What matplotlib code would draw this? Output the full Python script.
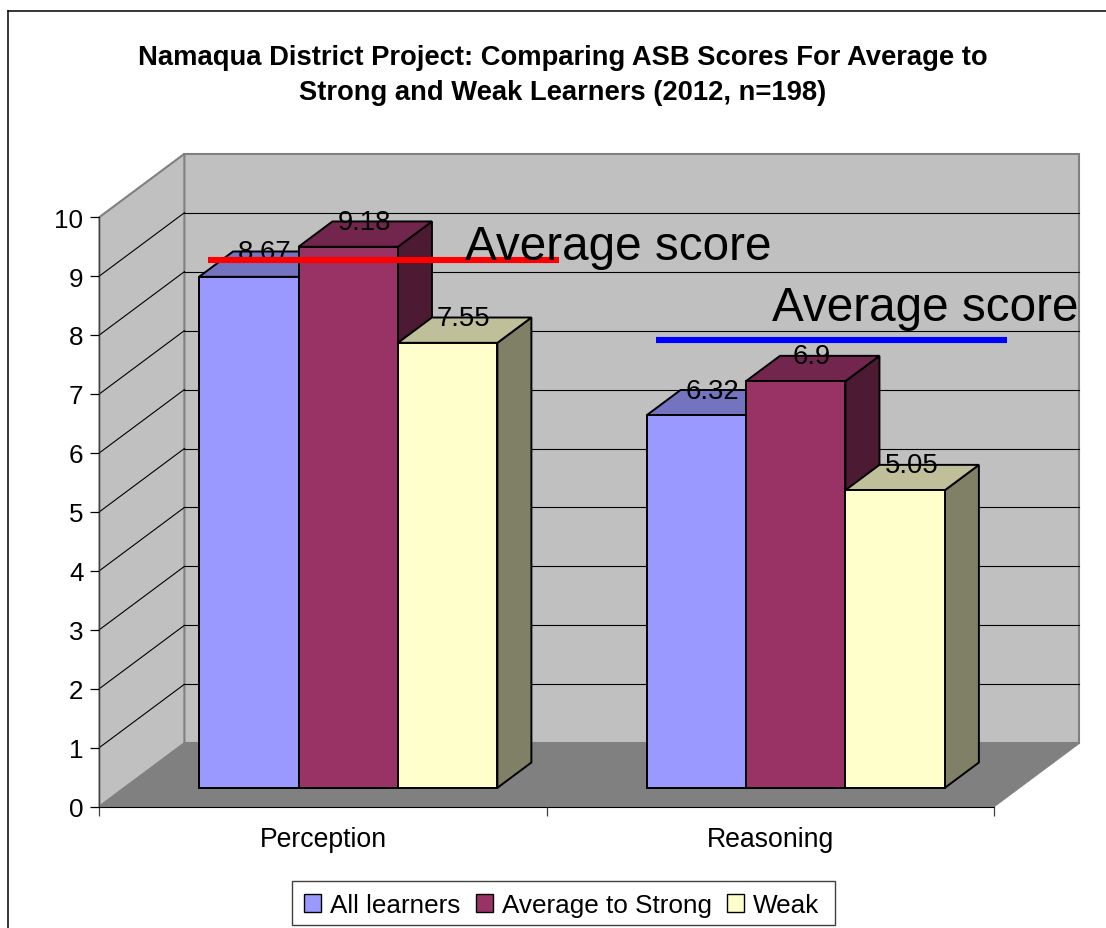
import matplotlib
matplotlib.use("Agg")
import matplotlib.pyplot as plt
from matplotlib.colors import to_rgb
from matplotlib.lines import Line2D
from matplotlib.patches import Patch, Rectangle

categories = ["Perception", "Reasoning"]
series_names = ["All learners", "Average to Strong", "Weak"]
all_learners = [8.67, 6.32]
average_to_strong = [9.18, 6.90]
weak = [7.55, 5.05]
value_labels = [["8.67", "6.32"], ["9.18", "6.9"], ["7.55", "5.05"]]
series_colors = ["#9999FF", "#993366", "#FFFFCC"]
y_ticks = list(range(11))

title = ("Namaqua District Project: Comparing ASB Scores For Average to\n"
         "Strong and Weak Learners (2012, n=198)")

average_label = "Average score"
average_levels = [9.275, 7.92]
average_starts = [0.2436, 1.2447]
average_colors = ["#FF0000", "#0000FF"]

W, H = 1106, 929
plt.rcParams["font.family"] = ["Liberation Sans", "DejaVu Sans"]

fig = plt.figure(figsize=(W / 100, H / 100), dpi=100)
ax = fig.add_axes([99.4 / W, 1 - 807.5 / H, 895 / W, 589.4 / H])
ax.patch.set_visible(False)
ax.set_xlim(0, 2)
ax.set_ylim(0, 10)

# depth of the fake 3d box, in data units
DX = 85 / 447.5
DY = 63.3 / 58.94
BAR_FRONT = 0.295
BAR_BACK = 0.695
BAR_W = 1 / 4.5
GAP = 1 / 6


def shade(color, f):
    return tuple(c * f for c in to_rgb(color))


def depth(x, y, d):
    return x + d * DX, y + d * DY


def poly(points, face, edge, lw=1.0, z=1):
    xs = [p[0] for p in points]
    ys = [p[1] for p in points]
    ax.fill(xs, ys, facecolor=face, edgecolor=edge, linewidth=lw, clip_on=False,
            joinstyle="miter", zorder=z)


# walls and floor
poly([depth(0, 0, 1), depth(2, 0, 1), depth(2, 10, 1), depth(0, 10, 1)], "#C0C0C0", "#808080", 1.5)
poly([(0, 0), depth(0, 0, 1), depth(0, 10, 1), (0, 10)], "#C0C0C0", "#808080", 1.5)
for v in y_ticks[1:-1]:
    x0, y0 = depth(0, v, 1)
    x1, y1 = depth(2, v, 1)
    ax.plot([0, x0], [v, y0], color="black", lw=0.8, clip_on=False, zorder=1.2)
    ax.plot([x0, x1], [y0, y1], color="black", lw=0.8, clip_on=False, zorder=1.2)
poly([(0, 0), (2, 0), depth(2, 0, 1), depth(0, 0, 1)], "#808080", "#808080", 0.8, z=1.4)

# bars, left to right so the later ones cover the earlier ones
bar_z = 2.0
for s, values in enumerate([all_learners, average_to_strong, weak]):
    color = series_colors[s]
    for c, v in enumerate(values):
        left = c + GAP + s * BAR_W
        right = left + BAR_W
        xf, yf = depth(left, 0, BAR_FRONT)
        xr, _ = depth(right, 0, BAR_FRONT)
        ddx = (BAR_BACK - BAR_FRONT) * DX
        ddy = (BAR_BACK - BAR_FRONT) * DY
        poly([(xr, yf), (xr + ddx, yf + ddy), (xr + ddx, yf + v + ddy), (xr, yf + v)],
             shade(color, 0.5), "black", 1.4, z=bar_z + s)
        poly([(xf, yf + v), (xr, yf + v), (xr + ddx, yf + v + ddy), (xf + ddx, yf + v + ddy)],
             shade(color, 0.75), "black", 1.4, z=bar_z + s)
        poly([(xf, yf), (xr, yf), (xr, yf + v), (xf, yf + v)], color, "black", 1.4, z=bar_z + s)

for s, values in enumerate([all_learners, average_to_strong, weak]):
    for c, v in enumerate(values):
        xf, yf = depth(c + GAP + s * BAR_W, 0, BAR_FRONT)
        ax.text(xf + BAR_W / 2 + 0.036, yf + v + 0.42, value_labels[s][c], fontsize=19.8,
                ha="center", va="center", color="black", clip_on=False, zorder=6)

for start, level, color in zip(average_starts, average_levels, average_colors):
    ax.plot([start, start + 0.784], [level, level], color=color, lw=4.4,
            solid_capstyle="butt", clip_on=False, zorder=7)
ax.text(0.818, 9.50, average_label, fontsize=34.3, ha="left", va="center", clip_on=False, zorder=7)
ax.text(1.504, 8.47, average_label, fontsize=34.3, ha="left", va="center", clip_on=False, zorder=7)

# axes
ax.spines["top"].set_visible(False)
ax.spines["right"].set_visible(False)
ax.spines["left"].set_color("#404040")
ax.spines["left"].set_zorder(1.5)
ax.spines["bottom"].set_color("black")
ax.spines["bottom"].set_zorder(1.5)
ax.set_yticks(y_ticks)
ax.tick_params(axis="y", length=6.5, width=0.9, labelsize=18.7, pad=5)
ax.set_xticks([0, 1, 2])
ax.set_xticklabels([])
ax.tick_params(axis="x", which="major", length=6.5, width=0.9, color="#404040")
ax.set_xticks([0.5, 1.5], minor=True)
ax.set_xticklabels(categories, minor=True, fontsize=19.2)
ax.tick_params(axis="x", which="minor", length=0, pad=14)

fig.text(563 / W, 1 - 75.5 / H, title, fontsize=19.75, fontweight="bold", ha="center", va="center",
         linespacing=1.45)

# legend box is wider than it is tall here, so the frame is drawn by hand
fig.add_artist(Rectangle((292 / W, 1 - 926 / H), 543 / W, 44 / H, transform=fig.transFigure,
                         facecolor="white", edgecolor="#404040", linewidth=1.0))
handles = [Patch(facecolor=c, edgecolor="black", linewidth=1.0) for c in series_colors]
fig.legend(handles, series_names, loc="center", bbox_to_anchor=(562 / W, 1 - 906 / H),
           ncol=3, fontsize=18.8, frameon=False,
           handlelength=0.65, handleheight=0.65, handletextpad=0.35, columnspacing=0.58,
           borderpad=0.35, borderaxespad=0)

# outer border, the bottom and right sides are cut off in the original
fig.add_artist(Line2D([8 / W, 8 / W], [0, 1 - 12 / H], color="black", lw=1.1))
fig.add_artist(Line2D([8 / W, 1], [1 - 12 / H, 1 - 12 / H], color="black", lw=1.1))

fig.savefig("out.png", dpi=100)
